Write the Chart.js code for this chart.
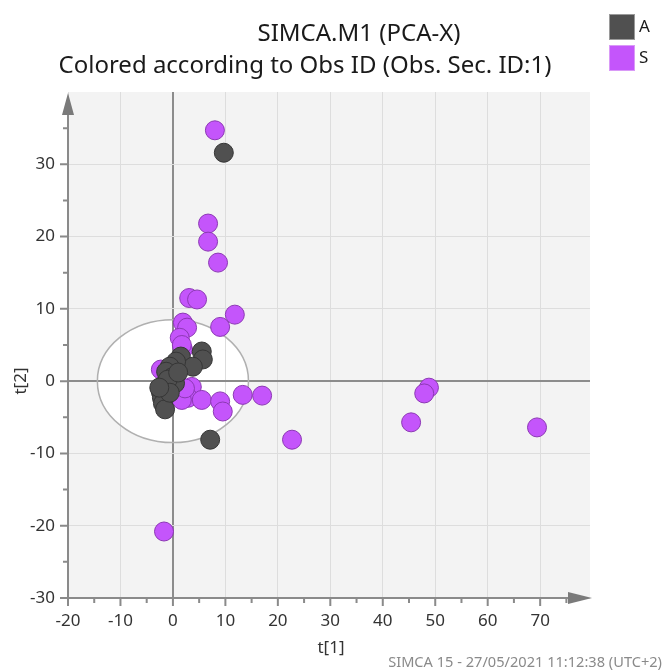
<!DOCTYPE html>
<html>
<head>
<meta charset="utf-8">
<script src="https://cdn.jsdelivr.net/npm/chart.js@4.4.1/dist/chart.umd.min.js"></script>
<style>
  html, body { margin: 0; padding: 0; background: #fff; }
  #wrap { position: relative; width: 667px; height: 671px; }
</style>
</head>
<body>
<div id="wrap"><canvas id="scoreChart" width="667" height="671"></canvas></div>
<script>
// t[1] / t[2] scores
const groupA_t1 = [9.7, 5.5, 5.7, 1.5, 3.8, 0.6, -0.6, -1.3, -0.2, 0.4, -1.9, -2.3, -2.1, -1.9, -1.5, 7.1, -1.0, -0.6, 1.0, -2.6];
const groupA_t2 = [31.6, 4.1, 3.0, 3.4, 2.0, 2.7, 2.0, 1.3, 0.5, -0.3, -0.6, -1.5, -2.3, -3.1, -3.9, -8.1, 0.2, -1.6, 1.2, -0.9];
const groupS_t1 = [8.0, 6.7, 6.7, 8.6, 3.1, 4.6, 11.8, 9.0, 1.9, 2.7, 1.3, 1.9, 1.7, -2.3, 3.6, 2.9, 5.5, 9.0, 9.5, 13.3, 17.0, 22.7, 48.8, 47.9, 45.4, 69.4, -1.7, 1.7, 2.3];
const groupS_t2 = [34.7, 21.8, 19.3, 16.4, 11.5, 11.3, 9.2, 7.5, 8.1, 7.4, 6.0, 4.4, 5.0, 1.6, -0.8, -2.3, -2.6, -2.8, -4.2, -1.9, -2.0, -8.1, -0.9, -1.7, -5.7, -6.4, -20.8, -2.6, -1.0];
const groupNames = ['A', 'S'];
const groupColors = ['#505050', '#c455fb'];
const groupBorders = ['#363636', '#8c38b4'];
const ellipseAxes = [14.4, 8.5]; // Hotelling T2 ellipse half-axes

const titleLines = ['SIMCA.M1 (PCA-X)', 'Colored according to Obs ID (Obs. Sec. ID:1)'];
const footerText = 'SIMCA 15 - 27/05/2021 11:12:38 (UTC+2)';
const FONT = '"Noto Sans", "Open Sans", sans-serif';

function toPoints(xs, ys) {
    return xs.map((v, i) => ({ x: v, y: ys[i] }));
}

const simcaDecor = {
    id: 'simcaDecor',
    beforeDraw(chart) {
        const { ctx, chartArea: a, scales: { x, y } } = chart;
        ctx.save();
        ctx.fillStyle = '#f3f3f3';
        ctx.fillRect(a.left, a.top, a.right - a.left, a.bottom - a.top);
        const cx = x.getPixelForValue(0), cy = y.getPixelForValue(0);
        const rx = x.getPixelForValue(ellipseAxes[0]) - cx;
        const ry = cy - y.getPixelForValue(ellipseAxes[1]);
        ctx.beginPath();
        ctx.ellipse(cx, cy, rx, ry, 0, 0, 2 * Math.PI);
        ctx.fillStyle = '#ffffff';
        ctx.fill();
        ctx.restore();
    },
    beforeDatasetsDraw(chart) {
        const { ctx, scales: { x, y } } = chart;
        const cx = x.getPixelForValue(0), cy = y.getPixelForValue(0);
        ctx.save();
        ctx.beginPath();
        ctx.ellipse(cx, cy, x.getPixelForValue(ellipseAxes[0]) - cx, cy - y.getPixelForValue(ellipseAxes[1]), 0, 0, 2 * Math.PI);
        ctx.strokeStyle = '#b0b0b0';
        ctx.lineWidth = 1.5;
        ctx.stroke();
        ctx.restore();
    },
    afterDraw(chart) {
        const { ctx, chartArea: a, scales: { x, y } } = chart;
        ctx.save();
        // axes
        ctx.strokeStyle = '#8a8a8a';
        ctx.lineWidth = 2;
        ctx.beginPath();
        ctx.moveTo(a.left, a.bottom); ctx.lineTo(a.right - 20, a.bottom);
        ctx.moveTo(a.left, a.bottom); ctx.lineTo(a.left, a.top + 20);
        ctx.stroke();
        ctx.fillStyle = '#7a7a7a';
        ctx.beginPath();
        ctx.moveTo(a.right + 2, a.bottom); ctx.lineTo(a.right - 22, a.bottom - 6); ctx.lineTo(a.right - 22, a.bottom + 6);
        ctx.closePath(); ctx.fill();
        ctx.beginPath();
        ctx.moveTo(a.left, a.top + 1); ctx.lineTo(a.left - 6, a.top + 23); ctx.lineTo(a.left + 6, a.top + 23);
        ctx.closePath(); ctx.fill();
        // major / minor tick marks
        ctx.lineWidth = 2;
        ctx.beginPath();
        for (let v = -20; v <= 75; v += 5) {
            const px = x.getPixelForValue(v);
            ctx.moveTo(px, a.bottom); ctx.lineTo(px, a.bottom + (v % 10 === 0 ? 8 : 5));
        }
        for (let v = -30; v <= 35; v += 5) {
            const py = y.getPixelForValue(v);
            ctx.moveTo(a.left, py); ctx.lineTo(a.left - (v % 10 === 0 ? 8 : 5), py);
        }
        ctx.stroke();
        // titles
        ctx.fillStyle = '#1a1a1a';
        ctx.font = '24px ' + FONT;
        ctx.textAlign = 'center';
        ctx.textBaseline = 'alphabetic';
        ctx.fillText(titleLines[0], 359, 41);
        ctx.fillText(titleLines[1], 305, 73);
        // axis titles
        ctx.fillStyle = '#333';
        ctx.font = '17px ' + FONT;
        ctx.textBaseline = 'middle';
        ctx.fillText('t[1]', 331, 648);
        ctx.save();
        ctx.translate(21, 381);
        ctx.rotate(-Math.PI / 2);
        ctx.fillText('t[2]', 0, 0);
        ctx.restore();
        // legend
        groupNames.forEach((name, i) => {
            const top = 14 + i * 31;
            ctx.fillStyle = groupColors[i];
            ctx.fillRect(609, top, 26, 26);
            ctx.strokeStyle = i === 0 ? '#9a9a9a' : '#d99af7';
            ctx.lineWidth = 1;
            ctx.strokeRect(609.5, top + 0.5, 25, 25);
            ctx.fillStyle = '#1a1a1a';
            ctx.textAlign = 'left';
            ctx.font = '17px ' + FONT;
            ctx.fillText(name, 639, top + 13);
        });
        // footer
        ctx.fillStyle = '#8a8a8a';
        ctx.font = '14.6px ' + FONT;
        ctx.textAlign = 'right';
        ctx.textBaseline = 'alphabetic';
        ctx.fillText(footerText, 662, 667);
        ctx.restore();
    }
};

const ctx = document.getElementById('scoreChart').getContext('2d');

new Chart(ctx, {
    type: 'scatter',
    data: {
        datasets: [
            {
                label: groupNames[0],
                data: toPoints(groupA_t1, groupA_t2),
                backgroundColor: groupColors[0],
                borderColor: groupBorders[0],
                borderWidth: 1,
                pointRadius: 9.5,
                pointHoverRadius: 9.5
            },
            {
                label: groupNames[1],
                data: toPoints(groupS_t1, groupS_t2),
                backgroundColor: groupColors[1],
                borderColor: groupBorders[1],
                borderWidth: 1,
                pointRadius: 9.5,
                pointHoverRadius: 9.5
            }
        ]
    },
    options: {
        responsive: false,
        animation: false,
        layout: { padding: { top: 92, right: 77, left: 0, bottom: 0 } },
        plugins: {
            legend: { display: false },
            title: { display: false },
            tooltip: { enabled: false }
        },
        scales: {
            x: {
                type: 'linear',
                min: -20,
                max: 79.5,
                afterFit(scale) { scale.height = 73; },
                border: { display: false },
                grid: {
                    drawTicks: false,
                    color: c => c.tick && c.tick.value === 0 ? '#8c8c8c' : '#dddddd',
                    lineWidth: c => c.tick && c.tick.value === 0 ? 2 : 1
                },
                ticks: {
                    stepSize: 10,
                    includeBounds: false,
                    padding: 13,
                    color: '#333',
                    font: { family: FONT, size: 17 }
                }
            },
            y: {
                type: 'linear',
                min: -30,
                max: 40,
                afterFit(scale) { scale.width = 68; },
                border: { display: false },
                grid: {
                    drawTicks: false,
                    color: c => !c.tick ? '#dddddd' : c.tick.value === 0 ? '#8c8c8c' : c.tick.value === 40 ? 'rgba(0,0,0,0)' : '#dddddd',
                    lineWidth: c => c.tick && c.tick.value === 0 ? 2 : 1
                },
                ticks: {
                    stepSize: 10,
                    padding: 13,
                    color: '#333',
                    font: { family: FONT, size: 17 },
                    callback: v => v === 40 ? '' : v
                }
            }
        }
    },
    plugins: [simcaDecor]
});
</script>
</body>
</html>
